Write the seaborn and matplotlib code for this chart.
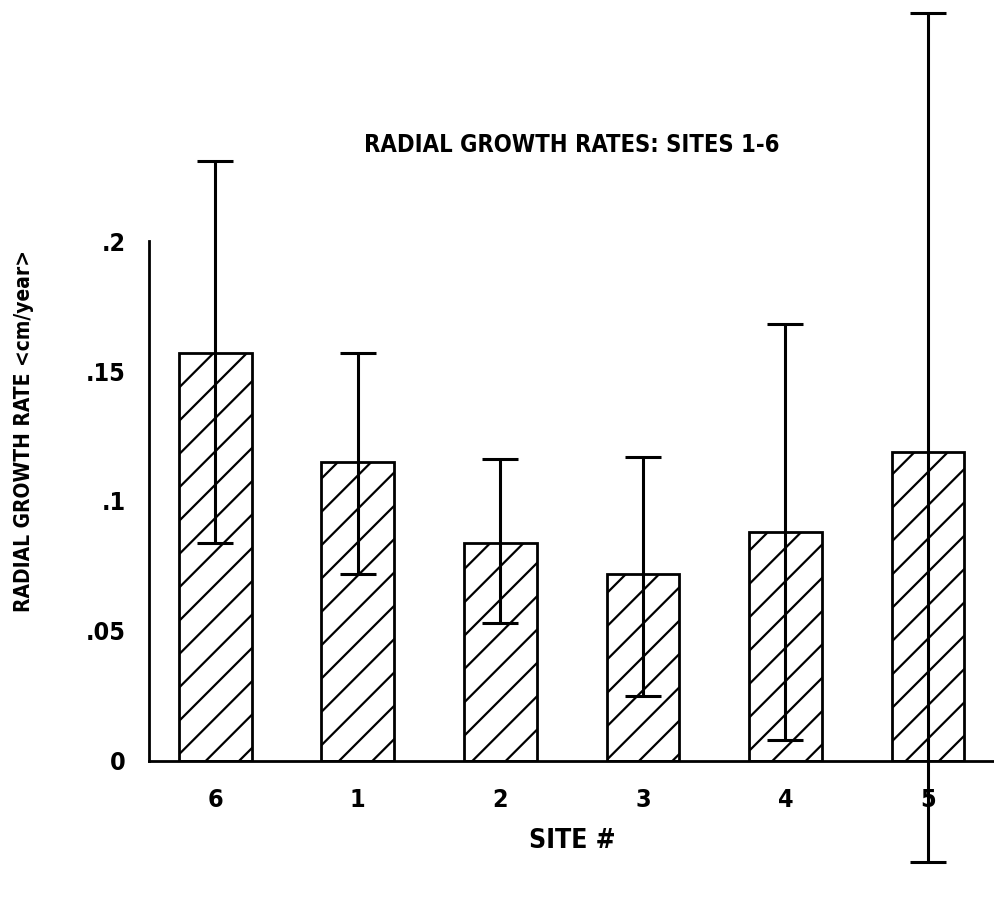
import numpy as np
import pandas as pd
import seaborn as sns
import matplotlib.pyplot as plt

sites = ['6', '1', '2', '3', '4', '5']
rates = [0.157, 0.115, 0.084, 0.072, 0.088, 0.119]
err_low = [0.084, 0.072, 0.053, 0.025, 0.008, -0.039]
err_high = [0.231, 0.157, 0.116, 0.117, 0.168, 0.288]
yticks = [0, 0.05, 0.1, 0.15, 0.2]
ytick_labels = ['0', '.05', '.1', '.15', '.2']

sns.set_style('white')
plt.rcParams['font.family'] = ['DejaVu Sans']
plt.rcParams['font.stretch'] = 'condensed'
plt.rcParams['font.weight'] = 'bold'
plt.rcParams['text.color'] = 'black'
plt.rcParams['xtick.color'] = 'black'
plt.rcParams['ytick.color'] = 'black'
plt.rcParams['hatch.linewidth'] = 1.6

df = pd.DataFrame({'site': sites, 'rate': rates})

fig = plt.figure(figsize=(9.95, 8.97), dpi=100)
ax = fig.add_axes([0.15, 0.152, 0.855, 0.579])

sns.barplot(data=df, x='site', y='rate', order=sites, color='white',
            edgecolor='black', linewidth=2, width=0.51, ax=ax, errorbar=None)
for p in ax.patches:
    p.set_hatch('/')
    p.set_facecolor('white')

# error bars, not symmetric
x = np.arange(len(sites))
r = np.array(rates)
yerr = [r - np.array(err_low), np.array(err_high) - r]
ax.errorbar(x, r, yerr=yerr, fmt='none', ecolor='black', elinewidth=2.2,
            capsize=13, capthick=2.2, clip_on=False, zorder=5)

ax.set_ylim(0, 0.2)
ax.set_xlim(-0.463, 5.505)
ax.set_yticks(yticks)
ax.set_yticklabels(ytick_labels)
ax.set_xlabel('')
ax.set_ylabel('')
sns.despine(ax=ax, top=True, right=True)
for s in ['left', 'bottom']:
    ax.spines[s].set_linewidth(2)
    ax.spines[s].set_color('black')
ax.tick_params(axis='both', length=10, width=2, direction='out',
               labelsize=18, pad=7)
ax.tick_params(axis='x', length=12, pad=8)
for t in ax.get_xticklabels() + ax.get_yticklabels():
    t.set_fontweight('bold')
    t.set_fontstretch('condensed')

fig.text(0.575, 0.838, 'RADIAL GROWTH RATES: SITES 1-6', ha='center', va='center',
         fontsize=17, fontweight='bold', fontstretch='condensed')
fig.text(0.575, 0.062, 'SITE #', ha='center', va='center', fontsize=19,
         fontweight='bold', fontstretch='condensed')
fig.text(0.024, 0.52, 'RADIAL GROWTH RATE <cm/year>', ha='center', va='center',
         rotation=90, fontsize=15, fontweight='bold', fontstretch='condensed')

fig.savefig('out.png', dpi=100)
